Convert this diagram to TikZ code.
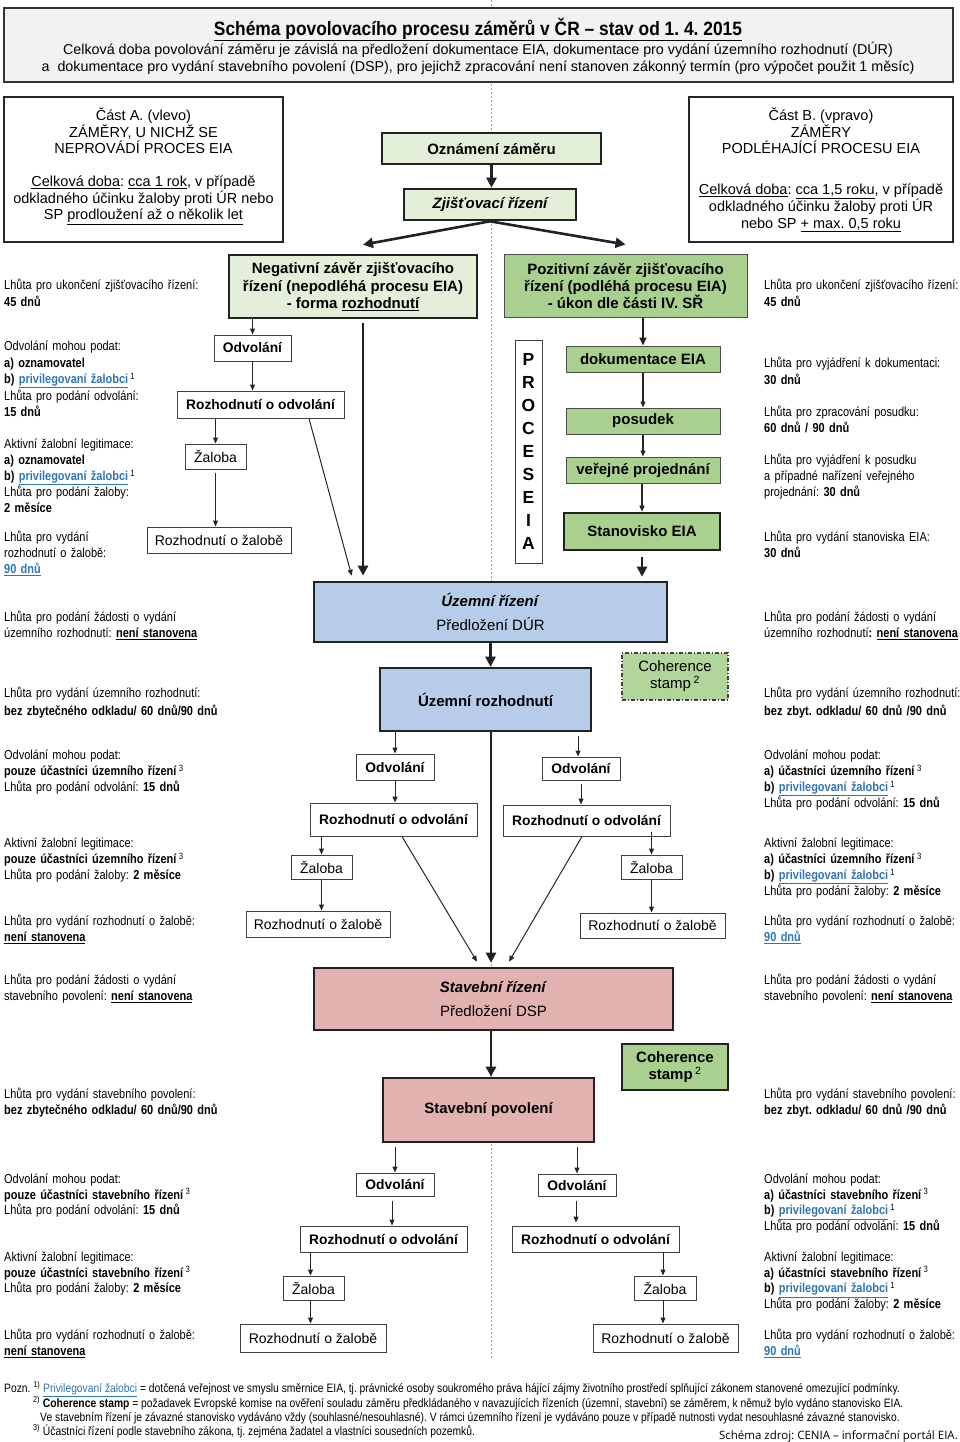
\documentclass[tikz,border=0pt]{standalone}
\usepackage{fontspec}
\setmainfont{Liberation Sans}
\newfontfamily\narrow[FakeStretch=0.845]{Liberation Sans}
\newfontfamily\titlefont[FakeStretch=0.9]{Liberation Sans}
\newfontfamily\srcfont{Open Sans}
\usetikzlibrary{arrows.meta,calc}
\definecolor{hdrgray}{HTML}{F2F2F2}
\definecolor{lgreen}{HTML}{E3EFD9}
\definecolor{mgreen}{HTML}{A9D08E}
\definecolor{cgreen}{HTML}{B2D59B}
\definecolor{lblue}{HTML}{B7CCE8}
\definecolor{lpink}{HTML}{E2B2B1}
\definecolor{linkblue}{HTML}{2E75B6}
\definecolor{edge}{HTML}{222222}
\newcommand\lnk[1]{\textcolor{linkblue}{\underline{\textbf{#1}}}}
\newcommand\plnk[1]{\textcolor{linkblue}{\underline{#1}}}
\newcommand\supn[1]{\,\textsuperscript{\mdseries #1}}
\newcommand\bul[1]{\textbf{\underline{#1}}}
\frenchspacing
\begin{document}
\frenchspacing
\begin{tikzpicture}[x=1pt,y=-1pt,
  wh/.style 2 args={minimum width=#1pt, minimum height=#2pt},
  hdrbox/.style={draw=black!80, line width=1.6pt, fill=hdrgray, inner sep=0},
  infobox/.style={draw=black!85, line width=1.3pt, fill=white, inner sep=0},
  infotext/.style={align=center, inner sep=0, font=\fontsize{14.5}{16.6}\selectfont},
  lgbox/.style={draw=edge, line width=2.6pt, fill=lgreen, inner sep=0, align=center, font=\bfseries\fontsize{15}{17.5}\selectfont},
  gbox/.style={draw=black!70, line width=1pt, fill=mgreen, inner sep=0, align=center, font=\bfseries\fontsize{15}{17}\selectfont},
  bigbox/.style={draw=edge, line width=2.6pt, inner sep=0, align=center, font=\fontsize{15}{24}\selectfont},
  sbox/.style={draw=black!75, line width=1pt, fill=white, inner sep=0, font=\fontsize{14}{16}\selectfont},
  sboxb/.style={sbox, font=\bfseries\fontsize{13.8}{16}\selectfont},
  side/.style={anchor=base west, text width=250pt, align=left, inner sep=0, font=\narrow\fontsize{13}{16}\selectfont},
  fnote/.style={anchor=base west, inner sep=0, font=\narrow\fontsize{12.2}{13}\selectfont},
  arr/.style={-{Triangle[length=6pt,width=5pt]}, line width=1pt, draw=black!85},
  marr/.style={-{Triangle[length=8pt,width=7pt]}, line width=1.8pt, draw=edge},
  tarr/.style={-{Triangle[length=10pt,width=10pt]}, line width=2.6pt, draw=edge},
  cline/.style={draw=black!40, line width=0.8pt, dash pattern=on 2pt off 2pt}
]
\useasboundingbox (0,0) rectangle (960,1442);

% centre guide line
\coordinate (ctop) at (491,0);
\coordinate (cbot) at (491,1358);
\draw[cline] (ctop) -- (cbot);

% header
\node[hdrbox, wh={949}{74}] (hdr) at (478.5,45) {};
\node[inner sep=0, font=\titlefont\bfseries\fontsize{19.3}{22}\selectfont] (title) at (478,29.5) {\underline{Schéma povolovacího procesu záměrů v ČR – stav od 1. 4. 2015}};
\node[inner sep=0, font=\fontsize{14.3}{16}\selectfont] (sub1) at (478,50) {Celková doba povolování záměru je závislá na předložení dokumentace EIA, dokumentace pro vydání územního rozhodnutí (DÚR)};
\node[inner sep=0, font=\fontsize{14.3}{16}\selectfont] (sub2) at (478,68) {a\ \ dokumentace pro vydání stavebního povolení (DSP), pro jejichž zpracování není stanoven zákonný termín (pro výpočet použit 1 měsíc)};

% part A / part B boxes
\node[infobox, wh={279}{145}] (boxA) at (143.5,169.5) {};
\node[infotext] (boxA1) at (143.5,131) {Část A. (vlevo)\\ZÁMĚRY, U NICHŽ SE\\NEPROVÁDÍ PROCES EIA};
\node[infotext] (boxA2) at (143.5,200.5) {\underline{Celková doba}: \underline{cca 1 rok}, v případě\\odkladného účinku žaloby proti ÚR nebo\\SP \underline{prodloužení až o několik let}};
\node[infobox, wh={264}{145}] (boxB) at (821,169.5) {};
\node[infotext] (boxB1) at (821,131) {Část B. (vpravo)\\ZÁMĚRY\\PODLÉHAJÍCÍ PROCESU EIA};
\node[infotext] (boxB2) at (821,208) {\underline{Celková doba}: \underline{cca 1,5 roku}, v případě\\odkladného účinku žaloby proti ÚR\\nebo SP \underline{+ max. 0,5 roku}};

% screening
\node[lgbox, wh={219}{31}] (ozn) at (491.5,148.5) {Oznámení záměru};
\node[lgbox, wh={172}{31}] (zjis) at (490,204.5) {\itshape Zjišťovací řízení};
\node[lgbox, wh={248}{63}] (neg) at (353,286.5) {Negativní závěr zjišťovacího\\řízení (nepodléhá procesu EIA)\\- forma \underline{rozhodnutí}};
\node[gbox, wh={243}{63}, font=\bfseries\fontsize{15}{17}\selectfont] (pos) at (625.5,285.5) {Pozitivní závěr zjišťovacího\\řízení (podléhá procesu EIA)\\- úkon dle části IV. SŘ};

\draw[tarr] (ozn.south) -- (ozn.south |- zjis.north);
\draw[tarr] (zjis.south) -- ([xshift=10pt,yshift=9pt]neg.north);
\draw[tarr] (zjis.south) -- ([yshift=9pt]pos.north);

% negative branch
\node[sboxb, wh={77}{26}] (odvA) at (252.5,348) {Odvolání};
\node[sboxb, wh={167}{27}] (rodA) at (260.5,404.5) {Rozhodnutí o odvolání};
\node[sbox, wh={61}{25}] (zalA) at (215.5,456.5) {Žaloba};
\node[sbox, wh={144}{26}] (rzA) at (219,540) {Rozhodnutí o žalobě};
\draw[arr] (neg.south -| odvA.north) -- (odvA.north);
\draw[arr] (odvA.south) -- (odvA.south |- rodA.north);
\draw[arr] (rodA.south -| zalA.north) -- (zalA.north);
\draw[arr] ([yshift=-3pt]zalA.south) -- (rzA.north -| zalA.south);

% EIA process
\node[draw=black!75, line width=1pt, fill=white, wh={27}{223}, inner sep=0, align=center, font=\bfseries\fontsize{17.5}{23}\selectfont] (proc) at (528.5,451.5) {P\\R\\O\\C\\E\\S\\E\\I\\A};
\node[gbox, wh={154}{26}] (dok) at (643,359) {dokumentace EIA};
\node[gbox, wh={154}{26}] (posu) at (643,421) {posudek};
\node[gbox, wh={154}{26}] (ver) at (643,470) {veřejné projednání};
\node[gbox, wh={156}{37}, line width=2.6pt, draw=edge] (sta) at (642,531.5) {Stanovisko EIA};
\draw[marr] (pos.south -| dok.north) -- (dok.north);
\draw[arr, line width=1.3pt] (dok.south) -- (posu.north);
\draw[arr, line width=1.3pt] (posu.south) -- (ver.north);
\draw[arr, line width=1.3pt] (ver.south -| sta.north) -- (sta.north);

% territorial procedure
\node[bigbox, fill=lblue, wh={353}{60}] (uz) at (490.5,612) {\textbf{\textit{Územní řízení}}\\Předložení DÚR};
\node[bigbox, fill=lblue, wh={211}{63}, font=\bfseries\fontsize{15}{17}\selectfont] (ur) at (485.5,699.5) {Územní rozhodnutí};
\node[draw=black!75, line width=1.3pt, dash pattern=on 4pt off 2pt on 1pt off 2pt, fill=cgreen, wh={106}{47}, inner sep=0, align=center, font=\fontsize{15}{17}\selectfont] (coh1) at (675,676.5) {Coherence\\stamp\,\textsuperscript{2}};

\draw[tarr] ([xshift=10pt,yshift=-4pt]neg.south) -- ([xshift=10pt,yshift=5pt]neg.south |- uz.north);
\draw[arr] ([xshift=48.5pt]rodA.south) -- ($(uz.north west)+(39,-5)$);
\draw[tarr] ([yshift=-6pt]sta.south) -- ([yshift=4pt]sta.south |- uz.north);
\draw[tarr] (uz.south) -- (uz.south |- ur.north);

% UR left branch
\node[sboxb, wh={78}{26}] (odvB) at (395,767) {Odvolání};
\node[sboxb, wh={167}{33}] (rodB) at (393.5,819.5) {Rozhodnutí o odvolání};
\node[sbox, wh={61}{24}] (zalB) at (321.5,867) {Žaloba};
\node[sbox, wh={144}{26}] (rzB) at (318,924) {Rozhodnutí o žalobě};
\draw[arr] (ur.south -| odvB.north) -- (odvB.north);
\draw[arr] (odvB.south) -- (odvB.south |- rodB.north);
\draw[arr] (rodB.south -| zalB.north) -- (zalB.north);
\draw[arr] (zalB.south) -- (zalB.south |- rzB.north);

% UR right branch
\node[sboxb, wh={78}{23}] (odvC) at (581,768.5) {Odvolání};
\node[sboxb, wh={167}{31}] (rodC) at (586.5,820.5) {Rozhodnutí o odvolání};
\node[sbox, wh={61}{24}] (zalC) at (651.5,867) {Žaloba};
\node[sbox, wh={145}{25}] (rzC) at (652.5,925.5) {Rozhodnutí o žalobě};
\draw[arr] ([xshift=-3pt,yshift=-4pt]ur.south -| odvC.north) -- ([xshift=-3pt]odvC.north);
\draw[arr] ([yshift=-3pt]odvC.south) -- (odvC.south |- rodC.north);
\draw[arr] ([yshift=5pt]rodC.south -| zalC.north) -- (zalC.north);
\draw[arr] (zalC.south) -- (zalC.south |- rzC.north);

% building procedure
\node[bigbox, fill=lpink, wh={359}{62}] (sr) at (493.5,999) {\textbf{\textit{Stavební řízení}}\\Předložení DSP};
\node[bigbox, fill=lpink, wh={211}{64}, font=\bfseries\fontsize{15}{17}\selectfont] (sp) at (488.5,1110) {Stavební povolení};
\node[draw=edge, line width=2pt, fill=mgreen, wh={106}{46}, inner sep=0, align=center, font=\bfseries\fontsize{15}{17}\selectfont] (coh2) at (675,1067) {Coherence\\stamp\,\textsuperscript{\mdseries 2}};

\draw[arr] ([xshift=8.5pt]rodB.south) -- ($(sr.north)+(-16.5,-5)$);
\draw[arr] ([xshift=-4.5pt]rodC.south) -- ($(sr.north)+(15.5,-5)$);
\draw[tarr] ([xshift=5.5pt]ur.south) -- ([xshift=5.5pt,yshift=4pt]ur.south |- sr.north);
\draw[tarr] ([xshift=-2.5pt]sr.south) -- ([xshift=-2.5pt]sr.south |- sp.north);

% SP left branch
\node[sboxb, wh={78}{23}] (odvD) at (395,1184.5) {Odvolání};
\node[sboxb, wh={167}{26}] (rodD) at (383.5,1239) {Rozhodnutí o odvolání};
\node[sbox, wh={61}{24}] (zalD) at (313.5,1288) {Žaloba};
\node[sbox, wh={146}{28}] (rzD) at (313,1338) {Rozhodnutí o žalobě};
\draw[arr] ([yshift=-4pt]sp.south -| odvD.north) -- (odvD.north);
\draw[arr] ([xshift=-3pt,yshift=-4pt]odvD.south) -- ([xshift=-3pt]odvD.south |- rodD.north);
\draw[arr] ([xshift=-3pt]rodD.south -| zalD.north) -- ([xshift=-3pt]zalD.north);
\draw[arr] ([xshift=-3pt]zalD.south) -- ([xshift=-3pt]zalD.south |- rzD.north);

% SP right branch
\node[sboxb, wh={78}{22}] (odvE) at (577,1185) {Odvolání};
\node[sboxb, wh={167}{26}] (rodE) at (595.5,1239) {Rozhodnutí o odvolání};
\node[sbox, wh={62}{24}] (zalE) at (665,1288) {Žaloba};
\node[sbox, wh={145}{28}] (rzE) at (665.5,1338) {Rozhodnutí o žalobě};
\draw[arr] ([yshift=-4pt]sp.south -| odvE.north) -- (odvE.north);
\draw[arr] ([xshift=-1pt,yshift=-4pt]odvE.south) -- ([xshift=-1pt,yshift=3pt]odvE.south |- rodE.north);
\draw[arr] ([xshift=-2pt]rodE.south -| zalE.north) -- ([xshift=-2pt]zalE.north);
\draw[arr] ([xshift=-2pt]zalE.south) -- ([xshift=-2pt]zalE.south |- rzE.north);

% left side texts
\node[side] (L1) at (4,289.5) {Lhůta pro ukončení zjišťovacího řízení:\\[1pt]\textbf{45 dnů}};
\node[side, font=\narrow\fontsize{13}{16.5}\selectfont] (L2) at (4,350.5) {Odvolání mohou podat:\\\textbf{a) oznamovatel}\\\textbf{b)} \lnk{privilegovaní žalobci}\supn{1}\\Lhůta pro podání odvolání:\\\textbf{15 dnů}};
\node[side] (L3) at (4,448.5) {Aktivní žalobní legitimace:\\\textbf{a) oznamovatel}\\\textbf{b)} \lnk{privilegovaní žalobci}\supn{1}\\Lhůta pro podání žaloby:\\\textbf{2 měsíce}};
\node[side] (L4) at (4,541.5) {Lhůta pro vydání\\rozhodnutí o žalobě:\\\lnk{90 dnů}};
\node[side] (L5) at (4,621.5) {Lhůta pro podání žádosti o vydání\\územního rozhodnutí: \bul{není stanovena}};
\node[side, font=\narrow\fontsize{13}{18}\selectfont] (L6) at (4,697.5) {Lhůta pro vydání územního rozhodnutí:\\\textbf{bez zbytečného odkladu/ 60 dnů/90 dnů}};
\node[side] (L7) at (4,759.5) {Odvolání mohou podat:\\\textbf{pouze účastníci územního řízení}\supn{3}\\Lhůta pro podání odvolání: \textbf{15 dnů}};
\node[side] (L8) at (4,847.5) {Aktivní žalobní legitimace:\\\textbf{pouze účastníci územního řízení}\supn{3}\\Lhůta pro podání žaloby: \textbf{2 měsíce}};
\node[side] (L9) at (4,925.5) {Lhůta pro vydání rozhodnutí o žalobě:\\\bul{není stanovena}};
\node[side] (L10) at (4,984.5) {Lhůta pro podání žádosti o vydání\\stavebního povolení: \bul{není stanovena}};
\node[side] (L11) at (4,1098.5) {Lhůta pro vydání stavebního povolení:\\\textbf{bez zbytečného odkladu/ 60 dnů/90 dnů}};
\node[side, font=\narrow\fontsize{13}{15.7}\selectfont] (L12) at (4,1183.5) {Odvolání mohou podat:\\\textbf{pouze účastníci stavebního řízení}\supn{3}\\Lhůta pro podání odvolání: \textbf{15 dnů}};
\node[side, font=\narrow\fontsize{13}{15.7}\selectfont] (L13) at (4,1261.5) {Aktivní žalobní legitimace:\\\textbf{pouze účastníci stavebního řízení}\supn{3}\\Lhůta pro podání žaloby: \textbf{2 měsíce}};
\node[side] (L14) at (4,1339.5) {Lhůta pro vydání rozhodnutí o žalobě:\\\bul{není stanovena}};

% right side texts
\node[side] (R1) at (764,289.5) {Lhůta pro ukončení zjišťovacího řízení:\\[1pt]\textbf{45 dnů}};
\node[side, font=\narrow\fontsize{13}{17}\selectfont] (R2) at (764,367.5) {Lhůta pro vyjádření k dokumentaci:\\\textbf{30 dnů}};
\node[side] (R3) at (764,416.5) {Lhůta pro zpracování posudku:\\\textbf{60 dnů / 90 dnů}};
\node[side] (R4) at (764,464.5) {Lhůta pro vyjádření k posudku\\a případné nařízení veřejného\\projednání: \textbf{30 dnů}};
\node[side] (R5) at (764,541.5) {Lhůta pro vydání stanoviska EIA:\\\textbf{30 dnů}};
\node[side] (R6) at (764,621.5) {Lhůta pro podání žádosti o vydání\\územního rozhodnutí\textbf{: \underline{není stanovena}}};
\node[side, font=\narrow\fontsize{13}{18}\selectfont] (R7) at (764,697.5) {Lhůta pro vydání územního rozhodnutí:\\\textbf{bez zbyt. odkladu/ 60 dnů /90 dnů}};
\node[side] (R8) at (764,759.5) {Odvolání mohou podat:\\\textbf{a) účastníci územního řízení}\supn{3}\\\textbf{b)} \lnk{privilegovaní žalobci}\supn{1}\\Lhůta pro podání odvolání: \textbf{15 dnů}};
\node[side] (R9) at (764,847.5) {Aktivní žalobní legitimace:\\\textbf{a) účastníci územního řízení}\supn{3}\\\textbf{b)} \lnk{privilegovaní žalobci}\supn{1}\\Lhůta pro podání žaloby: \textbf{2 měsíce}};
\node[side] (R10) at (764,925.5) {Lhůta pro vydání rozhodnutí o žalobě:\\\lnk{90 dnů}};
\node[side] (R11) at (764,984.5) {Lhůta pro podání žádosti o vydání\\stavebního povolení: \bul{není stanovena}};
\node[side] (R12) at (764,1098.5) {Lhůta pro vydání stavebního povolení:\\\textbf{bez zbyt. odkladu/ 60 dnů /90 dnů}};
\node[side, font=\narrow\fontsize{13}{15.7}\selectfont] (R13) at (764,1183.5) {Odvolání mohou podat:\\\textbf{a) účastníci stavebního řízení}\supn{3}\\\textbf{b)} \lnk{privilegovaní žalobci}\supn{1}\\Lhůta pro podání odvolání: \textbf{15 dnů}};
\node[side, font=\narrow\fontsize{13}{15.7}\selectfont] (R14) at (764,1261.5) {Aktivní žalobní legitimace:\\\textbf{a) účastníci stavebního řízení}\supn{3}\\\textbf{b)} \lnk{privilegovaní žalobci}\supn{1}\\Lhůta pro podání žaloby: \textbf{2 měsíce}};
\node[side] (R15) at (764,1339.5) {Lhůta pro vydání rozhodnutí o žalobě:\\\lnk{90 dnů}};

% footnotes
\node[fnote] (fn1) at (4,1392) {Pozn. \textsuperscript{1)} \plnk{Privilegovaní žalobci} = dotčená veřejnost ve smyslu směrnice EIA, tj. právnické osoby soukromého práva hájící zájmy životního prostředí splňující zákonem stanovené omezující podmínky.};
\node[fnote] (fn2) at (33,1407) {\textsuperscript{2)} \textbf{Coherence stamp} = požadavek Evropské komise na ověření souladu záměru předkládaného v navazujících řízeních (územní, stavební) se záměrem, k němuž bylo vydáno stanovisko EIA.};
\node[fnote] (fn3) at (40,1421) {Ve stavebním řízení je závazné stanovisko vydáváno vždy (souhlasné/nesouhlasné). V rámci územního řízení je vydáváno pouze v případě nutnosti vydat nesouhlasné závazné stanovisko.};
\node[fnote] (fn4) at (33,1435) {\textsuperscript{3)} Účastníci řízení podle stavebního zákona, tj. zejména žadatel a vlastníci sousedních pozemků.};
\node[anchor=base east, inner sep=0, font=\srcfont\fontsize{11.5}{13}\selectfont] (src) at (958,1439.5) {Schéma zdroj: CENIA – informační portál EIA.};
\end{tikzpicture}
\end{document}
